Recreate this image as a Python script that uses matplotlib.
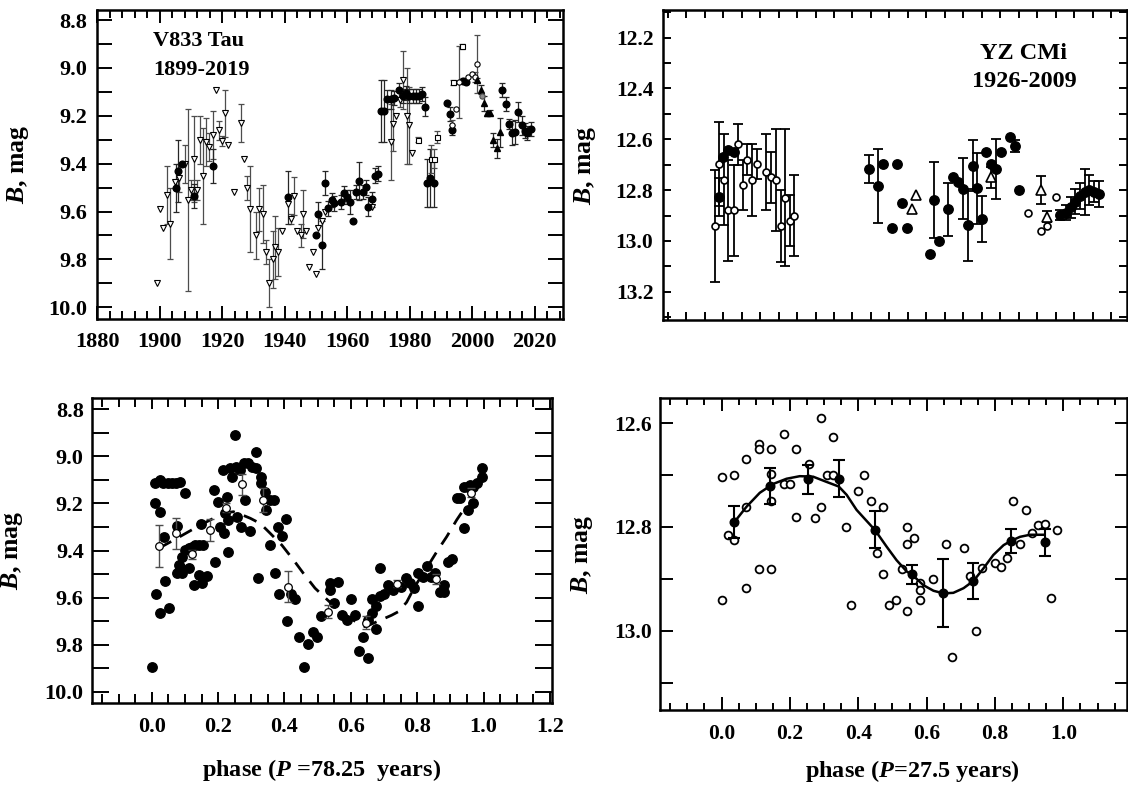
import numpy as np
import matplotlib
matplotlib.use('Agg')
import matplotlib.pyplot as plt
from matplotlib.ticker import MultipleLocator, FormatStrFormatter

plt.rcParams['font.family'] = 'Liberation Serif'
plt.rcParams['font.weight'] = 'bold'
plt.rcParams['mathtext.fontset'] = 'custom'
plt.rcParams['mathtext.it'] = 'Liberation Serif:italic:bold'
plt.rcParams['mathtext.rm'] = 'Liberation Serif:bold'
plt.rcParams['mathtext.bf'] = 'Liberation Serif:bold'

# ---------------- V833 Tau light curve (top left) ----------------
tri_year = [1899.0, 1900.1, 1901.1, 1902.2, 1903.3, 1904.9, 1906.2, 1908.1, 1908.9, 1910.0,
            1911.0, 1912.0, 1912.9, 1913.9, 1914.9, 1915.8, 1916.9, 1918.0, 1919.0, 1919.9,
            1920.9, 1921.9, 1923.8, 1925.9, 1926.9, 1927.8, 1928.9, 1930.8, 1931.8, 1932.9,
            1934.0, 1935.0, 1936.1, 1937.0, 1937.9, 1939.0, 1940.9, 1941.9, 1942.9, 1944.0,
            1945.1, 1945.9, 1946.8, 1947.8, 1948.9, 1949.9, 1950.8, 1952.0, 1952.9, 1967.8,
            1973.9, 1974.7, 1975.7, 1976.8, 1977.9, 1979.0, 1979.8, 1980.8]
tri_mag = [9.90, 9.59, 9.67, 9.53, 9.65, 9.475, 9.46, 9.40, 9.55, 9.51,
           9.38, 9.51, 9.30, 9.45, 9.31, 9.33, 9.28, 9.09, 9.26, 9.305,
           9.19, 9.32, 9.52, 9.23, 9.38, 9.50, 9.59, 9.70, 9.59, 9.61,
           9.77, 9.90, 9.80, 9.75, 9.77, 9.68, 9.57, 9.63, 9.535, 9.68,
           9.70, 9.61, 9.68, 9.83, 9.77, 9.86, 9.67, 9.64, 9.60, 9.58,
           9.31, 9.235, 9.20, 9.135, 9.05, 9.20, 9.24, 9.355]
tri_err = [0, 0, 0, 0.12, 0.15, 0, 0.06, 0.08, 0.38, 0.04,
           0.18, 0.04, 0.10, 0.20, 0.10, 0.06, 0.10, 0, 0.04, 0.02,
           0.10, 0, 0, 0.08, 0, 0.05, 0.18, 0.10, 0.09, 0.12,
           0.05, 0.10, 0.12, 0.13, 0.10, 0, 0, 0.02, 0.08, 0,
           0.05, 0.10, 0, 0, 0, 0, 0, 0, 0, 0,
           0.16, 0.11, 0, 0.03, 0.12, 0.20, 0.16, 0]

fc_year = [1905.2, 1905.9, 1907.0, 1911.0, 1916.9, 1940.9, 1949.9, 1950.8, 1952.0, 1952.9,
           1953.9, 1955.0, 1955.7, 1957.9, 1958.9, 1959.8, 1960.9, 1961.7, 1962.8, 1963.8,
           1964.9, 1965.9, 1966.7, 1967.8, 1968.9, 1969.7, 1970.8, 1971.7, 1972.6, 1973.9,
           1974.9, 1976.6, 1977.7, 1978.8, 1979.8, 1980.9, 1981.9, 1983.0, 1983.8, 1984.8,
           1985.6, 1986.6, 1987.7, 1991.8, 1992.9, 1993.7, 1997.1, 1998.0, 2009.7, 2010.8,
           2011.8, 2012.9, 2013.8, 2014.8, 2015.8, 2016.8, 2017.7, 2018.7]
fc_mag = [9.50, 9.43, 9.40, 9.535, 9.41, 9.54, 9.70, 9.61, 9.74, 9.48,
          9.587, 9.552, 9.566, 9.559, 9.524, 9.538, 9.559, 9.64, 9.517, 9.471,
          9.517, 9.499, 9.58, 9.549, 9.45, 9.441, 9.179, 9.179, 9.131, 9.131,
          9.125, 9.092, 9.118, 9.104, 9.118, 9.118, 9.118, 9.118, 9.109, 9.162,
          9.48, 9.46, 9.48, 9.145, 9.193, 9.26, 9.053, 9.058, 9.092, 9.151,
          9.235, 9.271, 9.268, 9.184, 9.239, 9.262, 9.271, 9.255]
fc_err = [0.10, 0.13, 0, 0.05, 0.07, 0.11, 0, 0.05, 0.10, 0.05,
          0.03, 0.03, 0.03, 0.03, 0.03, 0.03, 0.05, 0, 0.03, 0.08,
          0.03, 0.03, 0.04, 0.03, 0.03, 0.03, 0.13, 0.13, 0.04, 0.04,
          0.03, 0.03, 0.03, 0.03, 0.03, 0.03, 0.03, 0.03, 0.03, 0.04,
          0.10, 0.12, 0.10, 0, 0.03, 0.02, 0.01, 0.01, 0.03, 0.03,
          0.02, 0.05, 0.05, 0.04, 0.04, 0.03, 0.03, 0.03]

sq_year = [1982.8, 1986.9, 1987.8, 1988.8, 1994.0, 1996.9]
sq_mag = [9.30, 9.38, 9.38, 9.29, 9.06, 8.909]
sq_err = [0.01, 0.06, 0.04, 0.025, 0.01, 0.01]

oc_year = [1993.7, 1994.8, 1995.8, 1998.7, 1999.8, 2000.8, 2001.7]
oc_mag = [9.239, 9.173, 9.058, 9.037, 9.027, 9.037, 8.984]
oc_err = [0.02, 0, 0.15, 0, 0, 0.02, 0.12]

ft_year = [2001.7, 2002.8, 2003.8, 2004.6, 2005.7, 2006.7, 2007.8, 2008.8]
ft_mag = [9.05, 9.09, 9.148, 9.19, 9.187, 9.30, 9.336, 9.269]
ft_err = [0.01, 0.02, 0.03, 0.01, 0.01, 0.03, 0.04, 0.06]

gc_year = [2003.0]
gc_mag = [9.118]

# ---------------- YZ CMi light curve (top right) ----------------
tr_oc_year = [1926.3, 1927.2, 1928.3, 1929.1, 1930.4, 1931.3, 1932.4, 1933.2, 1934.3, 1935.3,
              1937.3, 1938.3, 1939.4, 1940.5, 1941.4, 1942.5, 1943.4, 1994.0, 1996.9, 1998.0, 2000.1]
tr_oc_mag = [12.941, 12.698, 12.759, 12.88, 12.88, 12.62, 12.78, 12.68, 12.76, 12.698,
             12.73, 12.75, 12.76, 12.941, 12.83, 12.92, 12.90, 12.889, 12.959, 12.941, 12.829]
tr_oc_err = [0.22, 0.165, 0.18, 0.2, 0.18, 0.08, 0.1, 0.06, 0.14, 0.06,
             0.15, 0.1, 0.2, 0.14, 0.27, 0.1, 0.16, 0, 0, 0, 0]

tr_fc_year = [1927.2, 1927.9, 1929.1, 1930.4, 1959.65, 1961.6, 1962.7, 1965.7, 1964.6, 1967.7,
              1966.7, 1972.8, 1974.8, 1973.7, 1976.7, 1977.8, 1978.9, 1980.0, 1980.9, 1982.0,
              1982.9, 1984.0, 1984.9, 1986.0, 1987.0, 1988.1, 1990.0, 1991.1, 1992.1, 2001.0,
              2002.1, 2003.2, 2004.2, 2005.3, 2006.4, 2007.2, 2008.3, 2009.3]
tr_fc_mag = [12.826, 12.668, 12.642, 12.649, 12.717, 12.784, 12.698, 12.698, 12.95, 12.95,
             12.852, 13.051, 13.0, 12.839, 12.875, 12.747, 12.767, 12.795, 12.937, 12.704,
             12.793, 12.915, 12.651, 12.698, 12.717, 12.651, 12.59, 12.626, 12.80, 12.898,
             12.889, 12.868, 12.845, 12.823, 12.806, 12.80, 12.806, 12.815]
tr_fc_err = [0.075, 0, 0, 0, 0.055, 0.144, 0, 0, 0, 0,
             0, 0, 0, 0.148, 0.105, 0, 0, 0.12, 0.14, 0.10,
             0.14, 0.09, 0, 0, 0.117, 0, 0, 0.025, 0, 0.02,
             0.03, 0.04, 0.05, 0.05, 0.09, 0.06, 0.04, 0.05]

tr_ot_year = [1968.8, 1969.8, 1986.0, 1996.9, 1998.0]
tr_ot_mag = [12.875, 12.82, 12.75, 12.80, 12.904]
tr_ot_err = [0, 0, 0.04, 0.055, 0.02]

# ---------------- V833 Tau phase plot (bottom left) ----------------
bl_phase = [0.000, 0.011, 0.024, 0.035, 0.048, 0.061, 0.074, 0.086, 0.099, 0.011,
            0.024, 0.014, 0.026, 0.051, 0.039, 0.036, 0.076, 0.076, 0.086, 0.091,
            0.101, 0.111, 0.121, 0.131, 0.141, 0.154, 0.081, 0.091, 0.111, 0.126,
            0.151, 0.141, 0.166, 0.148, 0.189, 0.201, 0.191, 0.229, 0.206, 0.218,
            0.214, 0.226, 0.221, 0.231, 0.236, 0.251, 0.254, 0.265, 0.277, 0.289,
            0.302, 0.315, 0.315, 0.241, 0.257, 0.269, 0.295, 0.282, 0.329, 0.329,
            0.342, 0.345, 0.357, 0.367, 0.405, 0.380, 0.392, 0.357, 0.319, 0.370,
            0.382, 0.420, 0.432, 0.407, 0.445, 0.472, 0.485, 0.497, 0.459, 0.511,
            0.538, 0.536, 0.561, 0.548, 0.573, 0.588, 0.600, 0.613, 0.625, 0.638,
            0.651, 0.651, 0.663, 0.676, 0.676, 0.663, 0.688, 0.688, 0.701, 0.713,
            0.726, 0.751, 0.766, 0.778, 0.790, 0.803, 0.803, 0.816, 0.829, 0.842,
            0.854, 0.869, 0.881, 0.882, 0.892, 0.904, 0.942, 0.919, 0.929, 0.942,
            0.954, 0.967, 0.969, 0.981, 0.994, 0.994, 0.954, 0.959]
bl_mag = [9.896, 9.115, 9.100, 9.115, 9.115, 9.115, 9.115, 9.108, 9.157, 9.197,
          9.235, 9.585, 9.664, 9.646, 9.528, 9.344, 9.296, 9.497, 9.468, 9.426,
          9.398, 9.391, 9.384, 9.376, 9.376, 9.376, 9.462, 9.497, 9.476, 9.547,
          9.540, 9.504, 9.507, 9.287, 9.143, 9.193, 9.448, 9.408, 9.299, 9.327,
          9.058, 9.171, 9.242, 9.270, 9.051, 8.909, 9.044, 9.058, 9.030, 9.027,
          9.044, 8.980, 9.051, 9.086, 9.256, 9.299, 9.317, 9.185, 9.086, 9.115,
          9.150, 9.228, 9.185, 9.185, 9.268, 9.299, 9.338, 9.376, 9.518, 9.497,
          9.585, 9.585, 9.608, 9.698, 9.766, 9.797, 9.745, 9.766, 9.896, 9.678,
          9.568, 9.540, 9.533, 9.625, 9.674, 9.695, 9.608, 9.674, 9.826, 9.766,
          9.857, 9.695, 9.664, 9.735, 9.636, 9.608, 9.594, 9.476, 9.585, 9.547,
          9.568, 9.554, 9.518, 9.540, 9.561, 9.636, 9.497, 9.511, 9.466, 9.514,
          9.497, 9.575, 9.547, 9.575, 9.448, 9.438, 9.306, 9.178, 9.178, 9.129,
          9.228, 9.197, 9.129, 9.115, 9.088, 9.051, 9.129, 9.122]

bl_mean_phase = [0.022, 0.072, 0.122, 0.177, 0.225, 0.272, 0.334, 0.411, 0.531, 0.647, 0.740, 0.857, 0.962]
bl_mean_mag = [9.381, 9.327, 9.416, 9.313, 9.218, 9.119, 9.185, 9.554, 9.660, 9.707, 9.542, 9.521, 9.154]
bl_mean_err = [0.09, 0.065, 0.02, 0.047, 0.02, 0.044, 0.05, 0.065, 0.028, 0.027, 0.015, 0.02, 0.018]

bl_dash_phase = [0.022, 0.076, 0.111, 0.146, 0.186, 0.216, 0.246, 0.266, 0.297, 0.327,
                 0.357, 0.392, 0.427, 0.457, 0.492, 0.522, 0.558, 0.598, 0.643, 0.678,
                 0.723, 0.743, 0.768, 0.794, 0.826, 0.859, 0.889, 0.919, 0.949]
bl_dash_mag = [9.39, 9.348, 9.32, 9.292, 9.263, 9.242, 9.235, 9.245, 9.263, 9.285,
               9.327, 9.377, 9.44, 9.497, 9.56, 9.60, 9.647, 9.689, 9.724, 9.703,
               9.675, 9.66, 9.62, 9.55, 9.48, 9.405, 9.341, 9.27, 9.207]

# ---------------- YZ CMi phase plot (bottom right) ----------------
br_phase = [0.000, 0.000, 0.037, 0.019, 0.037, 0.073, 0.073, 0.073, 0.110, 0.110,
            0.110, 0.146, 0.146, 0.146, 0.146, 0.182, 0.182, 0.200, 0.219, 0.219,
            0.256, 0.274, 0.291, 0.291, 0.309, 0.327, 0.327, 0.363, 0.380, 0.400,
            0.418, 0.436, 0.473, 0.455, 0.473, 0.491, 0.510, 0.527, 0.543, 0.543,
            0.543, 0.563, 0.582, 0.582, 0.582, 0.618, 0.656, 0.673, 0.709, 0.727,
            0.745, 0.763, 0.800, 0.818, 0.836, 0.854, 0.873, 0.891, 0.909, 0.927,
            0.945, 0.963, 0.981]
br_mag = [12.703, 12.941, 12.700, 12.815, 12.825, 12.668, 12.761, 12.917, 12.640, 12.650,
          12.881, 12.650, 12.698, 12.750, 12.881, 12.621, 12.717, 12.717, 12.650, 12.780,
          12.679, 12.783, 12.590, 12.761, 12.700, 12.700, 12.626, 12.800, 12.950, 12.730,
          12.700, 12.750, 12.761, 12.851, 12.891, 12.950, 12.941, 12.881, 12.800, 12.832,
          12.962, 12.821, 12.908, 12.922, 12.941, 12.901, 12.832, 13.050, 12.840, 12.895,
          13.001, 12.879, 12.870, 12.878, 12.860, 12.750, 12.833, 12.767, 12.811, 12.796,
          12.794, 12.937, 12.806]

br_mean_phase = [0.037, 0.141, 0.252, 0.343, 0.449, 0.556, 0.649, 0.737, 0.846, 0.945]
br_mean_mag = [12.791, 12.721, 12.708, 12.707, 12.805, 12.891, 12.927, 12.904, 12.827, 12.829]
br_mean_err = [0.031, 0.034, 0.028, 0.036, 0.035, 0.018, 0.066, 0.034, 0.023, 0.026]

br_fit_phase = [0.037, 0.073, 0.112, 0.151, 0.19, 0.229, 0.268, 0.307, 0.343, 0.366,
                0.395, 0.424, 0.449, 0.483, 0.512, 0.542, 0.556, 0.59, 0.62, 0.649,
                0.678, 0.708, 0.737, 0.766, 0.795, 0.825, 0.846, 0.873, 0.902, 0.944]
br_fit_mag = [12.791, 12.761, 12.734, 12.717, 12.707, 12.702, 12.703, 12.713, 12.722, 12.738,
              12.767, 12.788, 12.806, 12.838, 12.864, 12.886, 12.891, 12.912, 12.923, 12.928,
              12.927, 12.918, 12.904, 12.880, 12.854, 12.835, 12.827, 12.819, 12.815, 12.815]


def errbars(ax, x, y, e, color, lw, cap, z):
    x, y, e = np.asarray(x), np.asarray(y), np.asarray(e)
    m = e > 0
    ax.errorbar(x[m], y[m], yerr=e[m], fmt='none', ecolor=color, elinewidth=lw,
                capsize=cap, capthick=lw, zorder=z)


def frame(ax, xmaj, xmin, ymaj, ymin, xlen, ylen, xpad, ypad, size):
    ax.xaxis.set_major_locator(MultipleLocator(xmaj))
    ax.xaxis.set_minor_locator(MultipleLocator(xmin))
    ax.yaxis.set_major_locator(MultipleLocator(ymaj))
    ax.yaxis.set_minor_locator(MultipleLocator(ymin))
    ax.tick_params(which='both', direction='in', top=True, right=True, width=1.4,
                   labelsize=size)
    ax.tick_params(axis='x', which='major', length=xlen[0], pad=xpad)
    ax.tick_params(axis='x', which='minor', length=xlen[1])
    ax.tick_params(axis='y', which='major', length=ylen[0], pad=ypad)
    ax.tick_params(axis='y', which='minor', length=ylen[1])
    for s in ax.spines.values():
        s.set_linewidth(1.8)
    ax.yaxis.set_major_formatter(FormatStrFormatter('%.1f'))


fig = plt.figure(figsize=(11.28, 7.85), dpi=100)

# top left
ax1 = fig.add_axes([0.0863, 0.5936, 0.4126, 0.3936])
errbars(ax1, tri_year, tri_mag, tri_err, '0.3', 0.9, 2.5, 1)
errbars(ax1, fc_year, fc_mag, fc_err, '0.15', 0.9, 2.5, 1)
errbars(ax1, sq_year, sq_mag, sq_err, '0.3', 0.9, 2.5, 1)
errbars(ax1, oc_year, oc_mag, oc_err, '0.3', 0.9, 2.5, 1)
errbars(ax1, ft_year, ft_mag, ft_err, '0.15', 0.9, 2.5, 1)
ax1.plot(tri_year, tri_mag, 'v', ms=4.4, mfc='white', mec='black', mew=0.8, zorder=3)
ax1.plot(fc_year, fc_mag, 'o', ms=4.8, color='black', zorder=3)
ax1.plot(sq_year, sq_mag, 's', ms=3.6, mfc='white', mec='black', mew=0.8, zorder=3)
ax1.plot(oc_year, oc_mag, 'o', ms=3.8, mfc='white', mec='black', mew=0.8, zorder=3)
ax1.plot(ft_year, ft_mag, '^', ms=4.0, color='black', zorder=3)
ax1.plot(gc_year, gc_mag, 'o', ms=3.8, mfc='0.55', mec='0.3', mew=0.8, zorder=3)
ax1.set_xlim(1880, 2029)
ax1.set_ylim(10.049, 8.758)
frame(ax1, 20, 4, 0.2, 0.1, (9.5, 5.8), (11, 11), 9, 7, 16)
ax1.xaxis.set_major_formatter(FormatStrFormatter('%d'))
ax1.set_ylabel('$B$, mag', fontsize=18.5, fontweight='bold')
ax1.yaxis.set_label_coords(-0.142, 0.5)
ax1.text(0.12, 0.90, 'V833 Tau', transform=ax1.transAxes, fontsize=16,
         fontweight='bold', va='center', ha='left')
ax1.text(0.12, 0.805, '1899-2019', transform=ax1.transAxes, fontsize=16,
         fontweight='bold', va='center', ha='left')

# top right
ax2 = fig.add_axes([0.5878, 0.5924, 0.4113, 0.3949])
errbars(ax2, tr_oc_year, tr_oc_mag, tr_oc_err, 'black', 1.3, 3.5, 1)
errbars(ax2, tr_fc_year, tr_fc_mag, tr_fc_err, 'black', 1.3, 3.5, 1)
errbars(ax2, tr_ot_year, tr_ot_mag, tr_ot_err, 'black', 1.3, 3.5, 1)
ax2.plot(tr_oc_year, tr_oc_mag, 'o', ms=5.0, mfc='white', mec='black', mew=1.2, zorder=3)
ax2.plot(tr_ot_year, tr_ot_mag, '^', ms=6.5, mfc='white', mec='black', mew=1.2, zorder=3)
ax2.plot(tr_fc_year, tr_fc_mag, 'o', ms=6.8, color='black', zorder=4)
ax2.set_xlim(1915, 2015.4)
ax2.set_ylim(13.311, 12.091)
frame(ax2, 4, 4, 0.2, 0.1, (6, 6), (5.5, 5.5), 9, 7, 15.5)
ax2.tick_params(axis='x', labelbottom=False)
ax2.set_ylabel('$B$, mag', fontsize=18.5, fontweight='bold')
ax2.yaxis.set_label_coords(-0.14, 0.5)
ax2.text(0.778, 0.861, 'YZ CMi', transform=ax2.transAxes, fontsize=17.5,
         fontweight='bold', va='center', ha='center')
ax2.text(0.778, 0.768, '1926-2009', transform=ax2.transAxes, fontsize=17.5,
         fontweight='bold', va='center', ha='center')

# bottom left
ax3 = fig.add_axes([0.0816, 0.1048, 0.4074, 0.3878])
ax3.plot(bl_phase, bl_mag, 'o', ms=6.8, color='black', zorder=2)
ax3.plot(bl_dash_phase, bl_dash_mag, color='black', lw=2.0, ls=(0, (5, 3.5)), zorder=3)
errbars(ax3, bl_mean_phase, bl_mean_mag, bl_mean_err, '0.3', 1.0, 3, 4)
ax3.plot(bl_mean_phase, bl_mean_mag, 'o', ms=5.5, mfc='white', mec='black', mew=0.9, zorder=5)
ax3.set_xlim(-0.18, 1.205)
ax3.set_ylim(10.047, 8.753)
frame(ax3, 0.2, 0.05, 0.2, 0.1, (8, 6.5), (12, 12), 10, 6, 16)
ax3.xaxis.set_major_formatter(FormatStrFormatter('%.1f'))
ax3.set_xlabel('phase ($P$ =78.25  years)', fontsize=17.5, fontweight='bold')
ax3.xaxis.set_label_coords(0.5, -0.177)
ax3.set_ylabel('$B$, mag', fontsize=18.5, fontweight='bold')
ax3.yaxis.set_label_coords(-0.146, 0.5)

# bottom right
ax4 = fig.add_axes([0.5851, 0.0955, 0.414, 0.397])
ax4.plot(br_phase, br_mag, 'o', ms=5.6, mfc='white', mec='black', mew=1.3, zorder=2)
ax4.plot(br_fit_phase, br_fit_mag, color='black', lw=1.8, zorder=3)
errbars(ax4, br_mean_phase, br_mean_mag, br_mean_err, 'black', 1.5, 4, 4)
ax4.plot(br_mean_phase, br_mean_mag, 'o', ms=6.2, color='black', zorder=5)
ax4.set_xlim(-0.18, 1.186)
ax4.set_ylim(13.153, 12.552)
frame(ax4, 0.2, 0.05, 0.2, 0.1, (9.4, 5), (9, 9), 10, 6, 15.5)
ax4.xaxis.set_major_formatter(FormatStrFormatter('%.1f'))
ax4.set_xlabel('phase ($P$=27.5 years)', fontsize=17.5, fontweight='bold')
ax4.xaxis.set_label_coords(0.54, -0.154)
ax4.set_ylabel('$B$, mag', fontsize=18.5, fontweight='bold')
ax4.yaxis.set_label_coords(-0.139, 0.5)

fig.savefig('out.png', dpi=100)
